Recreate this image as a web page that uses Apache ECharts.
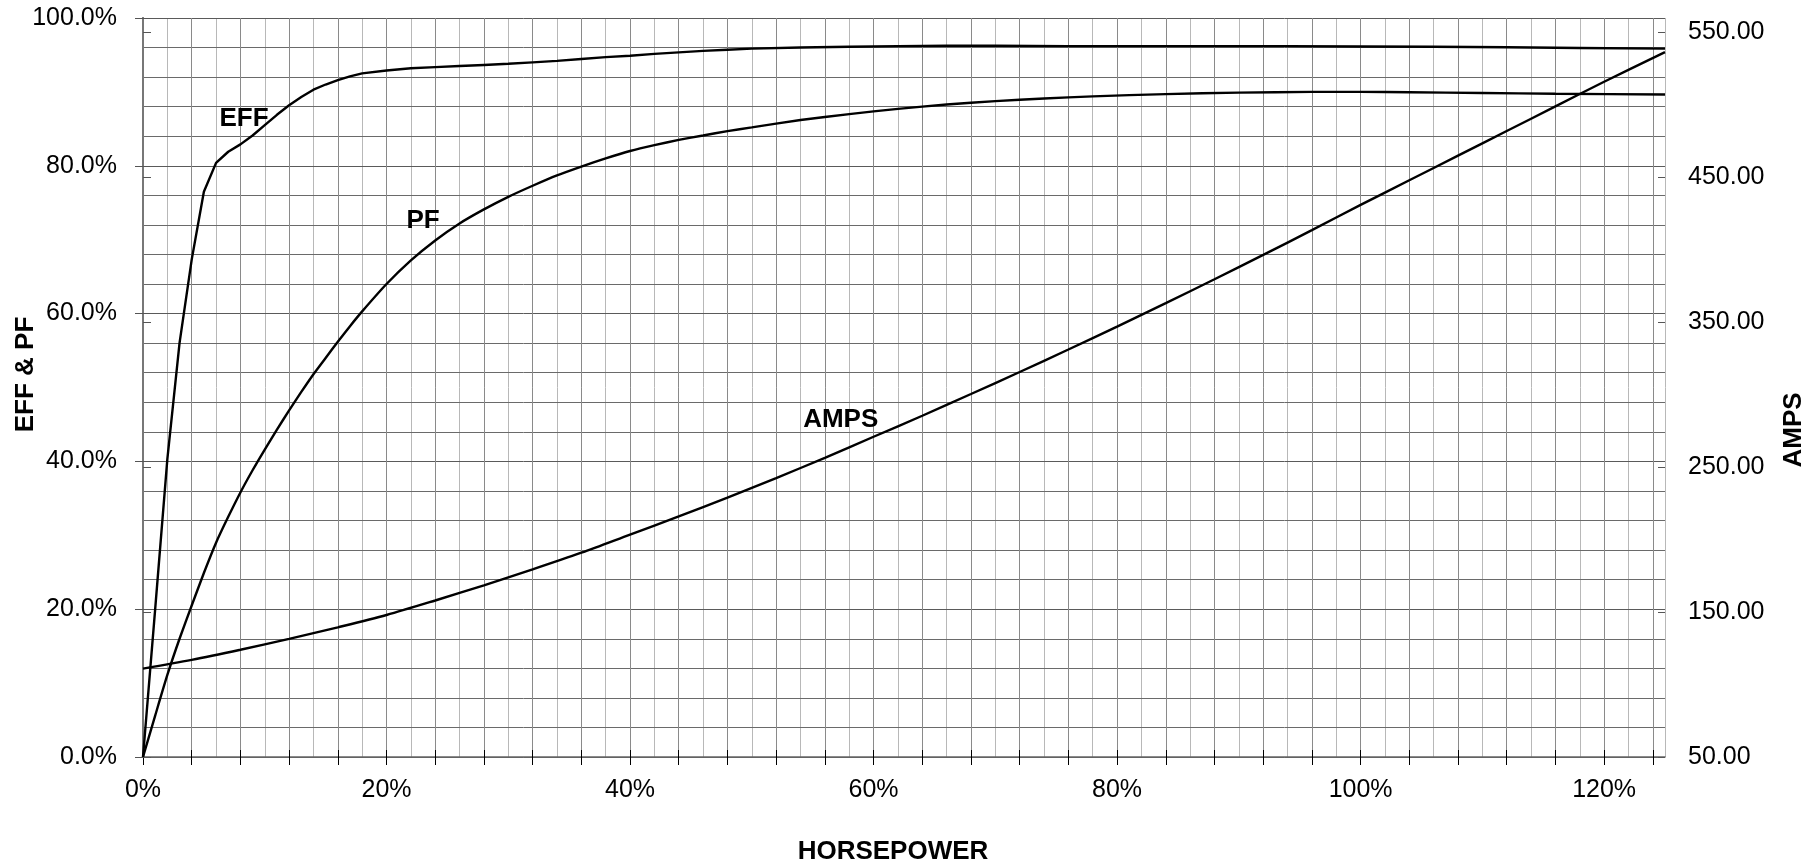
<!DOCTYPE html>
<html>
<head>
<meta charset="utf-8">
<script src="https://cdn.jsdelivr.net/npm/echarts@6/dist/echarts.min.js"></script>
<style>
html,body{margin:0;padding:0;background:#fff;}
#chart{width:1812px;height:865px;}
</style>
</head>
<body>
<div id="chart"></div>
<script>
// Horsepower (% of rated) and values
const hpEff = [0,1,2,3,4,5,6,7,8,9,10,11,12,13,14,15,16,17,18,20,22,24,26,28,30,32,34,36,38,40,42,44,46,48,50,54,58,62,66,70,76,82,88,94,100,106,112,118,125];
const eff   = [0,20,40.3,56,67.3,76.5,80.4,81.9,82.9,84.1,85.5,86.9,88.2,89.3,90.3,91.0,91.6,92.1,92.5,92.9,93.2,93.35,93.5,93.65,93.8,94.0,94.2,94.45,94.7,94.9,95.15,95.35,95.55,95.7,95.85,96.0,96.1,96.2,96.25,96.25,96.2,96.2,96.2,96.2,96.15,96.1,96.05,95.95,95.85];

const hpPf = [0,1,2,3,4,5,6,7,8,9,10,11,12,13,14,15,16,17,18,20,22,24,26,28,30,32,34,36,38,40,42,44,46,48,50,54,58,62,66,70,74,78,84,90,96,100,104,110,116,125];
const pf   = [0,5.6,11.1,16.0,20.5,24.9,29.0,32.5,35.8,38.8,41.6,44.3,46.9,49.4,51.8,54.0,56.2,58.3,60.3,64.0,67.2,69.9,72.2,74.1,75.8,77.3,78.7,79.9,81.0,82.0,82.8,83.5,84.1,84.7,85.2,86.2,87.0,87.7,88.3,88.75,89.1,89.4,89.7,89.9,90.0,90.0,89.95,89.85,89.75,89.65];

const hpAmps = [0,4,8,12,16,20,24,28,32,36,40,44,48,52,56,60,64,68,72,76,80,84,88,92,96,100,104,108,112,116,120,125];
const amps   = [111,117,124,131.5,139.5,148,158,168.5,179.5,191,203.5,216,229,242.5,256.5,271,285.5,300.5,315.7,331.2,347,363.2,379.7,396.5,413.6,431,448,465,482,499,516,536.5];

// tick labels
const xLabelValues = [0,20,40,60,80,100,120];
const leftLabelValues = [0,20,40,60,80,100];
const rightLabelValues = [50,150,250,350,450,550];

// curve captions
const captionText = ['EFF','PF','AMPS'];
const captionHp = [8.3, 23.0, 57.3];
const captionVal = [86.3, 72.5, 282.9];

const FONT = '"Liberation Sans", Arial, Helvetica, sans-serif';
const pairs = (xs, ys) => xs.map((x, i) => [x, ys[i]]);
const xTicks = [];
for (let v = 0; v <= 124; v += 4) xTicks.push(v);

function caption(i) {
  return {
    symbol: 'circle', symbolSize: 0, silent: true,
    label: { show: true, position: 'inside', formatter: captionText[i], color: '#000',
             fontFamily: FONT, fontWeight: 'bold', fontSize: 26 },
    data: [{ coord: [captionHp[i], captionVal[i]] }]
  };
}

const chart = echarts.init(document.getElementById('chart'), null, { renderer: 'canvas' });
chart.setOption({
  animation: false,
  backgroundColor: '#fff',
  grid: { left: 143, right: 147, top: 18, bottom: 108, containLabel: false, outerBoundsMode: 'none' },
  xAxis: [
    { type: 'value', position: 'bottom', min: 0, max: 125, interval: 4, z: 3,
      name: 'HORSEPOWER', nameLocation: 'middle', nameGap: 82, nameMoveOverlap: false,
      nameTextStyle: { fontFamily: FONT, fontWeight: 'bold', fontSize: 26, color: '#000', padding: [0, 22, 0, 0] },
      axisLine: { show: true, lineStyle: { color: '#666', width: 1.5 } },
      axisTick: { show: true, length: 8, customValues: xTicks, lineStyle: { color: '#000', width: 1 } },
      axisLabel: { show: true, margin: 21, customValues: xLabelValues, formatter: v => v + '%',
                   fontFamily: FONT, fontSize: 25, color: '#000' },
      splitLine: { show: true, lineStyle: { color: '#8a8a8a', width: 1 } } },
    { type: 'value', position: 'bottom', min: 0, max: 125, interval: 2, z: 1,
      axisLine: { show: false }, axisTick: { show: false }, axisLabel: { show: false },
      splitLine: { show: true, lineStyle: { color: '#b8b8b8', width: 1 } } },
    { type: 'value', position: 'bottom', min: 0, max: 125, interval: 4, z: 4,
      axisLine: { show: false }, axisLabel: { show: false }, splitLine: { show: false },
      axisTick: { show: true, inside: true, length: 7, customValues: xTicks.slice(1), lineStyle: { color: '#000', width: 1 } } }
  ],
  yAxis: [
    { type: 'value', position: 'left', min: 0, max: 100, interval: 20, z: 3,
      name: 'EFF & PF', nameLocation: 'middle', nameGap: 104, nameRotate: 90, nameMoveOverlap: false,
      nameTextStyle: { fontFamily: FONT, fontWeight: 'bold', fontSize: 26, color: '#000', padding: [0, 0, 0, 26] },
      axisLine: { show: true, lineStyle: { color: '#777', width: 2 } },
      axisTick: { show: true, length: 8, lineStyle: { color: '#555', width: 1 } },
      axisLabel: { margin: 26, customValues: leftLabelValues, formatter: v => v.toFixed(1) + '%', fontFamily: FONT, fontSize: 25, color: '#000' },
      splitLine: { show: true, lineStyle: { color: '#5a5a5a', width: 1 } },
      minorTick: { show: false, splitNumber: 5 },
      minorSplitLine: { show: true, lineStyle: { color: '#6a6a6a', width: 1 } } },
    { type: 'value', position: 'right', min: 50, max: 560, interval: 100, z: 3,
      name: 'AMPS', nameLocation: 'middle', nameGap: 116, nameRotate: 90, nameMoveOverlap: false,
      nameTextStyle: { fontFamily: FONT, fontWeight: 'bold', fontSize: 26, color: '#000', padding: [0, 85, 0, 0] },
      axisLine: { show: true, lineStyle: { color: '#777', width: 2 } },
      axisTick: { show: true, length: 8, customValues: rightLabelValues, lineStyle: { color: '#555', width: 1 } },
      axisLabel: { margin: 23, customValues: rightLabelValues, formatter: v => v.toFixed(2),
                   fontFamily: FONT, fontSize: 25, color: '#000' },
      splitLine: { show: false } },
    { type: 'value', position: 'left', min: 0, max: 100, interval: 20, z: 4,
      axisLine: { show: false }, axisLabel: { show: false }, splitLine: { show: false },
      axisTick: { show: true, inside: true, length: 7, lineStyle: { color: '#555', width: 1 } } },
    { type: 'value', position: 'right', min: 50, max: 560, interval: 100, z: 4,
      axisLine: { show: false }, axisLabel: { show: false }, splitLine: { show: false },
      axisTick: { show: true, inside: true, length: 7, customValues: rightLabelValues, lineStyle: { color: '#555', width: 1 } } }
  ],
  series: [
    { name: 'EFF', type: 'line', xAxisIndex: 0, yAxisIndex: 0, showSymbol: false, symbol: 'none', z: 10,
      lineStyle: { color: '#000', width: 2.4 }, data: pairs(hpEff, eff), markPoint: caption(0) },
    { name: 'PF', type: 'line', xAxisIndex: 0, yAxisIndex: 0, showSymbol: false, symbol: 'none', z: 10, smooth: 0.2,
      lineStyle: { color: '#000', width: 2.4 }, data: pairs(hpPf, pf), markPoint: caption(1) },
    { name: 'AMPS', type: 'line', xAxisIndex: 0, yAxisIndex: 1, showSymbol: false, symbol: 'none', z: 10, smooth: 0.3,
      lineStyle: { color: '#000', width: 2.4 }, data: pairs(hpAmps, amps), markPoint: caption(2) }
  ]
});
</script>
</body>
</html>
